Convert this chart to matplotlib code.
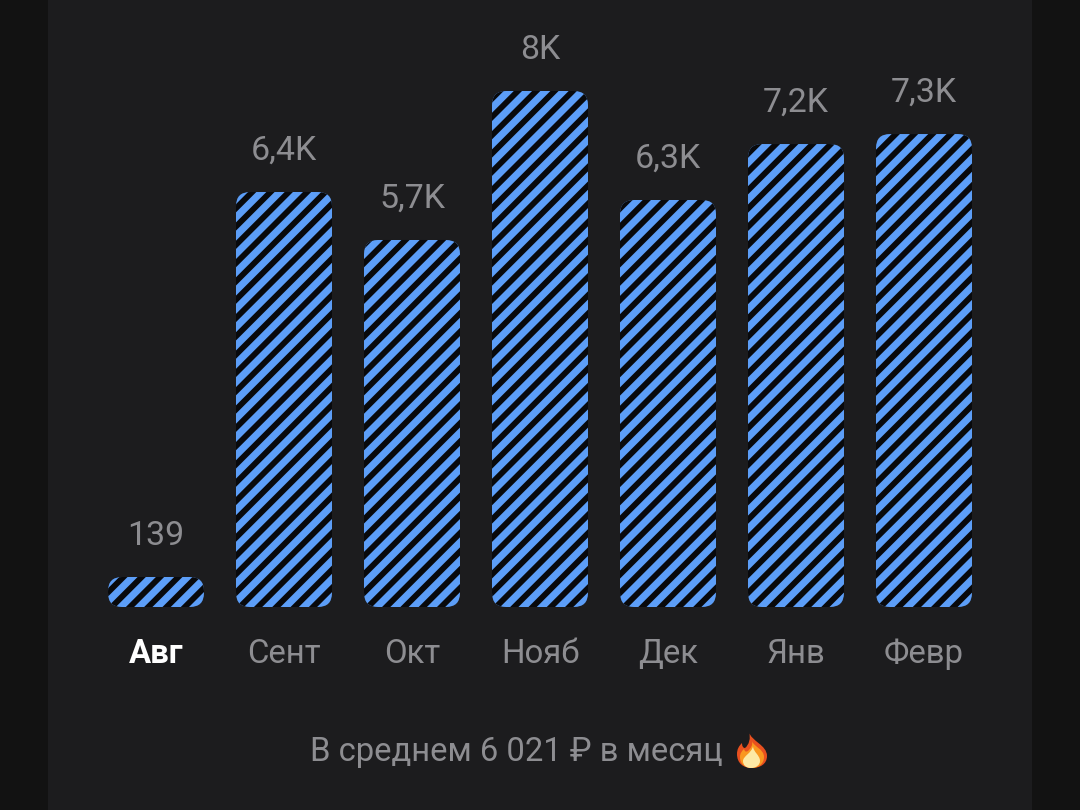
import matplotlib
matplotlib.use('Agg')
import numpy as np
import matplotlib.pyplot as plt
from matplotlib.collections import LineCollection
from matplotlib.patches import FancyBboxPatch, PathPatch, Rectangle
from matplotlib.path import Path
from matplotlib.transforms import IdentityTransform, Affine2D

months = ['Авг', 'Сент', 'Окт', 'Нояб', 'Дек', 'Янв', 'Февр']
values = [139, 6434, 5690, 8000, 6310, 7178, 7333]
value_labels = ['139', '6,4K', '5,7K', '8K', '6,3K', '7,2K', '7,3K']
summary = 'В среднем 6 021 ₽ в месяц'

W, H = 1080, 810
BASE = 607            # pixel row of the bar bottoms
PX_PER_UNIT = 516 / 8000
MIN_H = 30            # short bars keep a minimum height
GREY = '#8d8d91'
BLUE = '#5c9ef8'
DARK = '#08090c'

plt.rcParams['font.family'] = ['Roboto', 'DejaVu Sans']

fig = plt.figure(figsize=(W / 100, H / 100), dpi=100, facecolor='#121212')
fig.add_artist(Rectangle((48 / W, 0), 984 / W, 1, transform=fig.transFigure,
                         facecolor='#1c1c1e', edgecolor='none', zorder=-1))

ax = fig.add_axes([0, (H - BASE) / H, 1, BASE / H])
ax.patch.set_visible(False)
ax.set_xlim(-156 / 128, (W - 156) / 128)
ax.set_ylim(0, BASE / PX_PER_UNIT)
for s in ax.spines.values():
    s.set_visible(False)

x = np.arange(len(months))
bar_w = 96 / 128
min_v = MIN_H / PX_PER_UNIT
aspect = (1 / PX_PER_UNIT) / (1 / 128)   # y units per x unit on screen
# diagonal stripes in pixels, clipped to each bar below
period = 18.3
offs = np.arange(-H, W + H, period) + 5
stripes = [[(o, 0), (o + H, H)] for o in offs]

for xi, v, lab in zip(x, values, value_labels):
    h = max(v, min_v)
    bar = FancyBboxPatch((xi - bar_w / 2, 0), bar_w, h,
                         boxstyle='round,pad=0,rounding_size=%f' % (14 / 128),
                         mutation_aspect=aspect, facecolor=BLUE, edgecolor='none')
    ax.add_patch(bar)
    lc = LineCollection(stripes, colors=DARK, linewidths=4.2, transform=IdentityTransform())
    ax.add_collection(lc, autolim=False)
    lc.set_clip_path(bar)
    ax.annotate(lab, (xi, h), xytext=(0, 23), textcoords='offset points',
                ha='center', va='baseline', fontsize=24.4, color=GREY)

ax.set_yticks([])
ax.set_xticks(x)
ax.set_xticklabels(months, fontsize=23.7, color=GREY)
ax.tick_params(axis='x', length=0, pad=22)
first = ax.get_xticklabels()[0]
first.set_color('white')
first.set_fontweight('bold')

fig.text(310 / W, (H - 761) / H, summary, ha='left', va='baseline', fontsize=23.6, color=GREY)

# flame emoji, drawn as shapes because no colour emoji font is installed
M, C, Z = Path.MOVETO, Path.CURVE4, Path.CLOSEPOLY
outer = [(749, 732), (751, 741), (767, 745), (767, 756), (767, 764), (760, 768), (752, 768),
         (743, 768), (737, 763), (737, 754), (737, 749), (739, 746), (742, 743), (742, 746), (743, 748),
         (745, 748), (749, 745), (751, 738), (749, 732), (749, 732)]
middle = [(752, 741), (754, 747), (764, 749), (764, 757), (764, 764), (758, 768), (752, 768),
          (745, 768), (740, 764), (740, 757), (740, 753), (742, 751), (744, 749), (745, 752), (746, 752),
          (748, 751), (751, 748), (753, 745), (752, 741), (752, 741)]
inner = [(753, 746), (753, 752), (760, 755), (760, 761), (760, 765), (756, 768), (751, 768),
         (746, 768), (743, 765), (743, 761), (743, 756), (752, 753), (753, 746), (753, 746)]
to_px = Affine2D().scale(1, -1).translate(0, H)
for pts, col in [(outer, '#e8501f'), (middle, '#f9971f'), (inner, '#fde9a5')]:
    codes = [M] + [C] * (len(pts) - 2) + [Z]
    fig.add_artist(PathPatch(Path(pts, codes), transform=to_px, facecolor=col, edgecolor='none'))

fig.savefig('out.png', dpi=100, facecolor=fig.get_facecolor())
